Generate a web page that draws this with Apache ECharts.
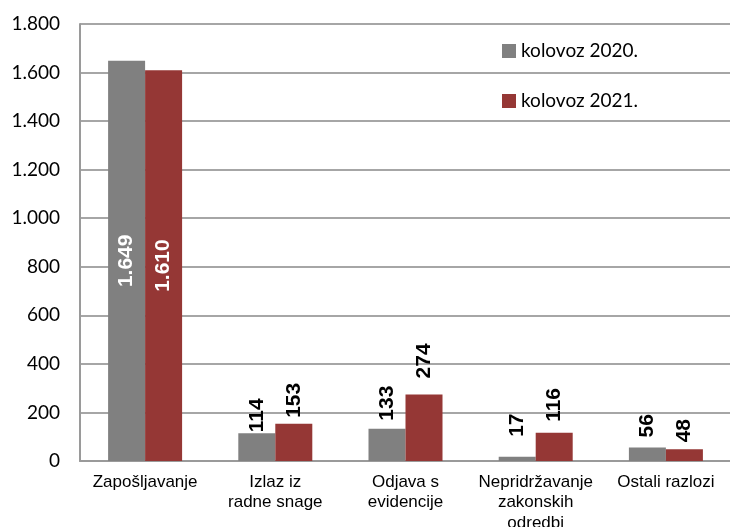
<!DOCTYPE html>
<html><head><meta charset="utf-8">
<script src="https://cdn.jsdelivr.net/npm/echarts@6/dist/echarts.min.js"></script>
<style>html,body{margin:0;padding:0;background:#fff}#c{width:730px;height:527px}</style>
</head><body><div id="c"></div>
<script>
var categories = ['Zapošljavanje', 'Izlaz iz\nradne snage', 'Odjava s\nevidencije', 'Nepridržavanje\nzakonskih\nodredbi', 'Ostali razlozi'];
var seriesNames = ['kolovoz 2020.', 'kolovoz 2021.'];
var values2020 = [1649, 114, 133, 17, 56];
var values2021 = [1610, 153, 274, 116, 48];
var yMin = 0, yMax = 1800, yStep = 200;

// gap (px) between bar top and its rotated value label, as placed in the original
var labelGap2020 = [0, 1, 8, 20, 10];
var labelGap2021 = [0, 6, 16, 11, 7];

function fmt(v) { return String(v).replace(/\B(?=(\d{3})+(?!\d))/g, '.'); }

function makeData(vals, gaps) {
  return vals.map(function (v, i) {
    var d = { value: v };
    if (i === 0) {
      d.label = { position: 'inside', color: '#ffffff', align: 'center', verticalAlign: 'middle' };
    } else {
      d.label = { distance: gaps[i] };
    }
    return d;
  });
}

var labelBase = {
  show: true, position: 'top', rotate: 90, align: 'left', verticalAlign: 'middle',
  distance: 2, color: '#000', fontFamily: 'Liberation Sans', fontWeight: 'bold', fontSize: 21,
  formatter: function (p) { return fmt(p.value); }
};

var chart = echarts.init(document.getElementById('c'), null, { renderer: 'canvas' });
chart.setOption({
  animation: false,
  grid: { left: 80, right: -1, top: 24, bottom: 66, containLabel: false, outerBoundsMode: 'none' },
  legend: {
    orient: 'vertical', left: 497, top: 36, itemWidth: 14, itemHeight: 14, itemGap: 30,
    icon: 'rect',
    textStyle: { fontFamily: 'Lato', fontSize: 19, color: '#000', lineHeight: 20 },
    data: seriesNames
  },
  xAxis: {
    type: 'category', data: categories,
    axisLine: { lineStyle: { color: '#9a9a9a', width: 2 } },
    axisTick: { show: false },
    axisLabel: { fontFamily: 'Liberation Sans', fontSize: 17, color: '#000', lineHeight: 20.5, margin: 11, interval: 0 }
  },
  yAxis: {
    type: 'value', min: yMin, max: yMax, interval: yStep,
    axisLine: { show: true, lineStyle: { color: '#9a9a9a', width: 2 } },
    axisTick: { show: false },
    splitLine: { lineStyle: { color: '#a6a6a6', width: 2 } },
    axisLabel: { fontFamily: 'Lato', fontSize: 19, color: '#000', margin: 20, formatter: fmt }
  },
  series: [
    { name: seriesNames[0], type: 'bar', data: makeData(values2020, labelGap2020), barWidth: 37, barGap: '0%',
      itemStyle: { color: '#808080' }, label: labelBase },
    { name: seriesNames[1], type: 'bar', data: makeData(values2021, labelGap2021), barWidth: 37, barGap: '0%',
      itemStyle: { color: '#953735' }, label: labelBase }
  ]
});
</script></body></html>
